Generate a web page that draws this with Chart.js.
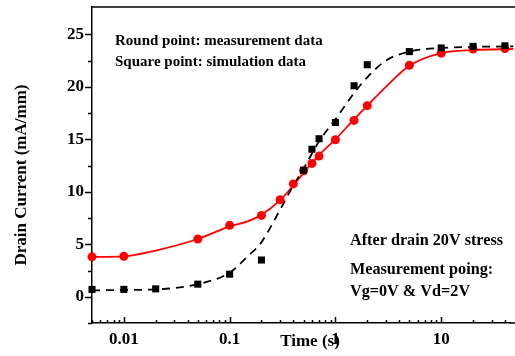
<!DOCTYPE html>
<html lang="en">
<head>
  <meta charset="UTF-8" />
  <title>Drain current vs time</title>
  <script src="https://cdn.jsdelivr.net/npm/chart.js"></script>
  <style>
    body { margin: 0; background: #fff; }
    #wrap { width: 515px; height: 356px; position: relative; }
  </style>
</head>
<body>
  <div id="wrap"><canvas id="drainChart"></canvas></div>

  <script>
    // measured points (round, red)
    const timeMeas = [0.005, 0.01, 0.05, 0.1, 0.2, 0.3, 0.4, 0.5, 0.6, 0.7, 1, 1.5, 2, 5, 10, 20, 40];
    const currentMeas = [3.8, 3.85, 5.5, 6.8, 7.75, 9.25, 10.75, 12.0, 12.7, 13.4, 14.95, 16.8, 18.2, 22.05, 23.2, 23.6, 23.65];

    // simulated points (square, black)
    const timeSim = [0.005, 0.01, 0.02, 0.05, 0.1, 0.2, 0.5, 0.6, 0.7, 1, 1.5, 2, 5, 10, 20, 40];
    const currentSim = [0.7, 0.7, 0.75, 1.2, 2.15, 3.5, 12.05, 14.05, 15.05, 16.6, 20.1, 22.1, 23.35, 23.7, 23.85, 23.9];

    // fitted curves
    const timeFit = [0.005, 0.01, 0.02, 0.05, 0.1, 0.15, 0.2, 0.3, 0.4, 0.5, 0.7, 1, 1.5, 2, 3, 5, 10, 20, 48];
    const fitMeas = [3.8, 3.85, 4.4, 5.5, 6.7, 7.2, 7.8, 9.2, 10.6, 11.8, 13.5, 15.0, 16.9, 18.2, 20.0, 22.0, 23.2, 23.5, 23.6];
    const fitSim = [0.6, 0.65, 0.7, 1.2, 2.3, 3.9, 5.2, 8.3, 10.6, 12.2, 14.8, 16.9, 19.4, 20.9, 22.5, 23.35, 23.7, 23.8, 23.85];

    const yMajor = [0, 5, 10, 15, 20, 25];
    const xMajor = [0.01, 0.1, 1, 10];

    const pts = (xs, ys) => xs.map((x, i) => ({ x: x, y: ys[i] }));
    const serif = '"Liberation Serif", "Times New Roman", serif';

    const frame = {
      id: 'frame',
      afterDraw(chart) {
        const { ctx, chartArea: a, scales } = chart;
        ctx.save();
        ctx.strokeStyle = '#000';
        ctx.lineWidth = 1.5;
        // top border (runs off the right edge like the original crop)
        ctx.beginPath();
        ctx.moveTo(a.left, a.top);
        ctx.lineTo(chart.width, a.top);
        ctx.moveTo(a.right, a.bottom);
        ctx.lineTo(chart.width, a.bottom);
        ctx.stroke();
        // x ticks, pointing in
        scales.x.ticks.forEach(t => {
          const v = t.value;
          const p = Math.pow(10, Math.floor(Math.log10(v) + 1e-9));
          const m = v / p;
          if (Math.abs(m - Math.round(m)) > 1e-6) return;
          const len = Math.round(m) === 1 ? 6 : 3;
          const px = Math.round(scales.x.getPixelForValue(v)) + 0.5;
          ctx.beginPath();
          ctx.moveTo(px, a.bottom);
          ctx.lineTo(px, a.bottom - len);
          ctx.stroke();
        });
        // y ticks, pointing out
        scales.y.ticks.forEach(t => {
          const v = t.value;
          if (Math.abs(v / 2.5 - Math.round(v / 2.5)) > 1e-6) return;
          const len = Math.abs(v / 5 - Math.round(v / 5)) < 1e-6 ? 7 : 4;
          const py = Math.round(scales.y.getPixelForValue(v)) + 0.5;
          ctx.beginPath();
          ctx.moveTo(a.left, py);
          ctx.lineTo(a.left - len, py);
          ctx.stroke();
        });
        // axis titles
        ctx.fillStyle = '#000';
        ctx.font = 'bold 17px ' + serif;
        ctx.textAlign = 'center';
        ctx.textBaseline = 'middle';
        ctx.fillText('Time (s)', 310, 342);
        ctx.save();
        ctx.translate(22, (a.top + a.bottom) / 2 + 10);
        ctx.rotate(-Math.PI / 2);
        ctx.fillText('Drain Current (mA/mm)', 0, 0);
        ctx.restore();
        // notes
        ctx.textAlign = 'left';
        ctx.textBaseline = 'alphabetic';
        ctx.font = 'bold 15px ' + serif;
        ctx.fillText('Round point: measurement data', 115, 45);
        ctx.fillText('Square point: simulation data', 115, 66);
        ctx.font = 'bold 16.2px ' + serif;
        ctx.fillText('After drain 20V stress', 350, 245);
        ctx.fillText('Measurement poing:', 350, 274);
        ctx.fillText('Vg=0V & Vd=2V', 350, 296);
        ctx.restore();
      }
    };

    new Chart(document.getElementById('drainChart'), {
      type: 'scatter',
      data: {
        datasets: [
          {
            label: 'Square point: simulation data',
            data: pts(timeSim, currentSim),
            pointStyle: 'rect',
            pointRadius: 5,
            backgroundColor: '#000',
            borderColor: '#000',
            borderWidth: 0,
            showLine: false,
            clip: false
          },
          {
            label: 'Round point: measurement data',
            data: pts(timeMeas, currentMeas),
            pointStyle: 'circle',
            pointRadius: 4.5,
            backgroundColor: '#ff0000',
            borderColor: '#ff0000',
            borderWidth: 0,
            showLine: false,
            clip: false
          },
          {
            label: 'simulation fit',
            data: pts(timeFit, fitSim),
            showLine: true,
            borderColor: '#000',
            borderWidth: 1.8,
            borderDash: [8, 6],
            pointRadius: 0,
            cubicInterpolationMode: 'monotone',
            clip: { left: 0, top: 0, right: 10, bottom: 0 }
          },
          {
            label: 'measurement fit',
            data: pts(timeFit, fitMeas),
            showLine: true,
            borderColor: '#ff0000',
            borderWidth: 1.8,
            pointRadius: 0,
            cubicInterpolationMode: 'monotone',
            clip: { left: 0, top: 0, right: 10, bottom: 0 }
          }
        ]
      },
      options: {
        responsive: true,
        maintainAspectRatio: false,
        animation: false,
        layout: { padding: { top: 7, right: 0, left: 0, bottom: 0 } },
        plugins: {
          legend: { display: false },
          tooltip: { enabled: false }
        },
        scales: {
          x: {
            type: 'logarithmic',
            min: 0.005,
            max: 44.7,
            grid: { display: false, drawTicks: false },
            border: { display: true, color: '#000', width: 1.5 },
            ticks: {
              autoSkip: false,
              maxRotation: 0,
              padding: 6,
              color: '#000',
              font: { family: serif, size: 17, weight: 'bold' },
              callback: v => xMajor.some(m => Math.abs(v - m) < m * 1e-6) ? String(v) : ''
            },
            afterFit: s => { s.height = 33; s.paddingLeft = 0; s.paddingRight = 0; }
          },
          y: {
            min: -2.5,
            max: 27.6,
            grid: { display: false, drawTicks: false },
            border: { display: true, color: '#000', width: 1.5 },
            ticks: {
              stepSize: 2.5,
              autoSkip: false,
              padding: 8,
              color: '#000',
              font: { family: serif, size: 17, weight: 'bold' },
              callback: v => yMajor.includes(v) ? String(v) : ''
            },
            afterFit: s => { s.width = 92; s.paddingTop = 0; s.paddingBottom = 0; }
          }
        }
      },
      plugins: [frame]
    });
  </script>
</body>
</html>
